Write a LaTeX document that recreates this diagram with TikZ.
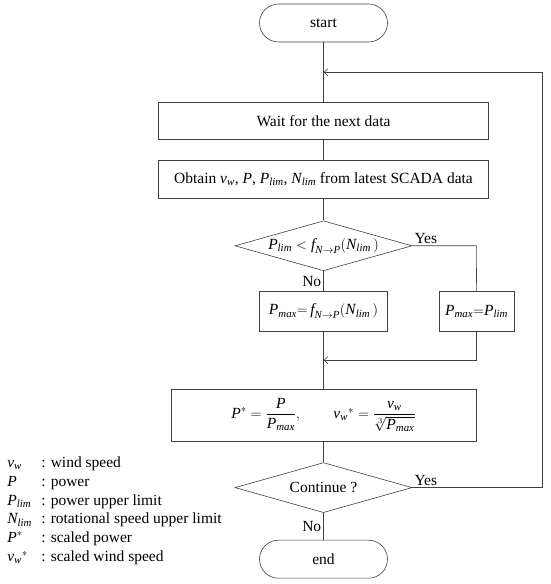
\documentclass[tikz,border=0pt]{standalone}
\usepackage{amsmath}
\usepackage{fontspec}
\setmainfont{Liberation Serif}
\usetikzlibrary{arrows.meta,positioning,shapes.geometric,calc}
\newcommand{\iv}[1]{\textit{#1}}

\begin{document}
\begin{tikzpicture}[x=1pt,y=1pt, font=\fontsize{15.5}{18}\selectfont, line width=0.6pt, draw=black!75,
  term/.style={draw,rounded corners=19pt,minimum width=128pt,minimum height=38pt,inner sep=0pt},
  proc/.style={draw,minimum height=38pt,inner sep=0pt},
  dec/.style={draw,diamond,minimum width=177pt,minimum height=50pt,inner sep=0pt},
  lbl/.style={inner sep=2pt}, >={Straight Barb[length=4pt,width=7pt]}]
\useasboundingbox (0,0) rectangle (550,584);
\node[term] (start) at (323.5,561) {start};
\node[proc, minimum width=330pt, minimum height=37pt, below=60pt of start] (wait) {Wait for the next data};
\draw (start) -- (wait);
\node[proc, minimum width=330pt, below=20pt of wait] (obtain) {Obtain $\iv{v}_{\iv{w}}$, $\iv{P}$, $\iv{P}_{\iv{lim}}$, $\iv{N}_{\iv{lim}}$ from latest SCADA data};
\draw (wait) -- (obtain);
\node[dec, below=22pt of obtain] (lim) {};
\node (limtxt) at (lim) {$\iv{P}_{\iv{lim}} < \iv{f}_{\iv{N}\rightarrow\iv{P}}(\iv{N}_{\iv{lim}}\,)$};
\draw (obtain) -- (lim);
\node[proc, minimum width=128pt, minimum height=40pt, below=20pt of lim] (pmaxf) {$\iv{P}_{\iv{max}}{=}\,\iv{f}_{\iv{N}\rightarrow\iv{P}}(\iv{N}_{\iv{lim}}\,)$};
\draw (lim) -- node[lbl, left] (no1) {No} (pmaxf);
\node[proc, minimum width=75pt, minimum height=40pt, right=51pt of pmaxf] (pmaxl) {$\iv{P}_{\iv{max}}{=}\iv{P}_{\iv{lim}}$};
\draw (lim.east) -- node[lbl, pos=0, above right] (yes1) {Yes} ++(64,0) -- (pmaxl.north);
\node[proc, minimum width=305pt, minimum height=52pt, below=57pt of pmaxf] (scale) {$\iv{P}^{*} = \dfrac{\iv{P}}{\iv{P}_{\iv{max}}},\qquad \iv{v}_{\iv{w}}{}^{*} = \dfrac{\iv{v}_{\iv{w}}}{\sqrt[3]{\iv{P}_{\iv{max}}}}$};
\coordinate (m2) at ($(pmaxf.south)!0.5!(scale.north)$);
\draw (pmaxf) -- (scale);
\draw[->] (pmaxl.south) |- (m2);
\node[dec, below=21pt of scale] (cont) {};
\node (conttxt) at (cont) {Continue ?};
\draw (scale) -- (cont);
\node[term, below=27pt of cont] (end) {end};
\draw (cont) -- node[lbl, left] (no2) {No} (end);
\coordinate (m1) at ($(start.south)!0.5!(wait.north)$);
\draw[->] (cont.east) -- node[lbl, pos=0, above right] (yes2) {Yes} ++(130,0) |- (m1);
% legend
\node[anchor=north west, inner sep=0pt, font=\fontsize{15.5}{18.8}\selectfont] (legend) at (7,130) {%
\begin{tabular}{@{}p{34pt}@{}l@{}}
$\iv{v}_{\iv{w}}$ & : wind speed\\
$\iv{P}$ & : power\\
$\iv{P}_{\iv{lim}}$ & : power upper limit\\
$\iv{N}_{\iv{lim}}$ & : rotational speed upper limit\\
$\iv{P}^{*}$ & : scaled power\\
$\iv{v}_{\iv{w}}{}^{*}$ & : scaled wind speed
\end{tabular}};
\end{tikzpicture}
\end{document}
